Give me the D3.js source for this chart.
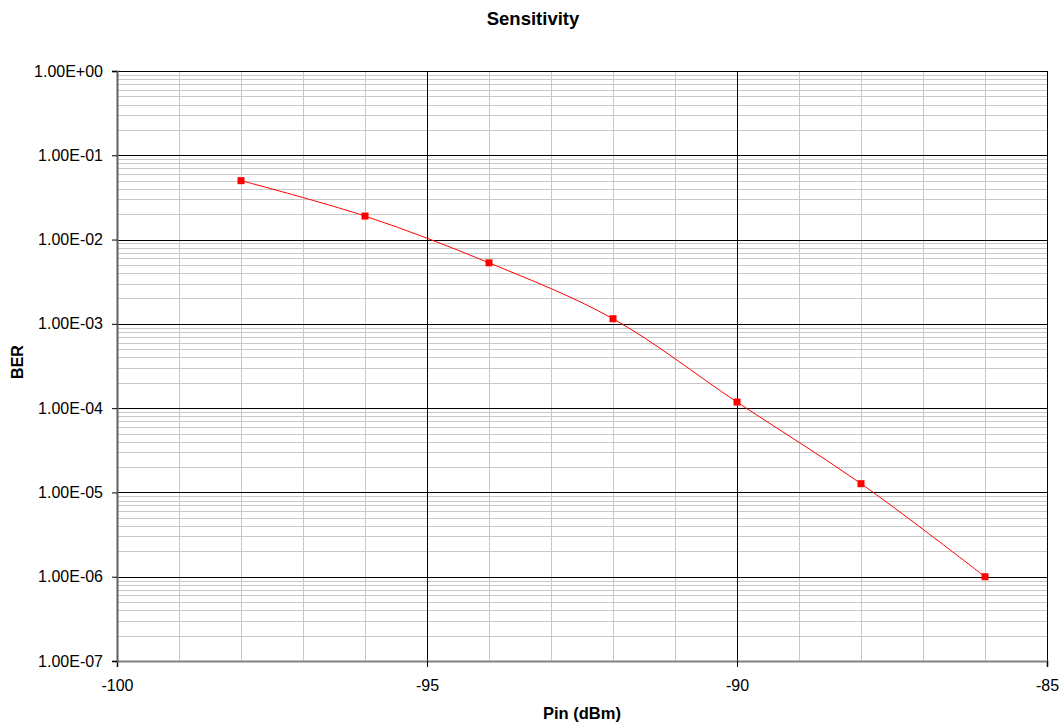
<!DOCTYPE html>
<html lang="en">
<head>
  <meta charset="UTF-8">
  <title>Sensitivity</title>
  <script src="https://d3js.org/d3.v7.min.js"></script>
  <style>
    body {
      margin: 0;
      padding: 0;
      background: #ffffff;
      font-family: Arial, 'Liberation Sans', sans-serif;
    }
    svg text { fill: #000; }
  </style>
</head>
<body>
  <svg id="chart" width="1064" height="723"></svg>

  <script>
    // data
    const pinDbm = [-98, -96, -94, -92, -90, -88, -86];
    const ber = [0.05, 0.019, 0.0053, 0.00115, 0.000118, 0.0000127, 0.000001];
    const xTicks = [-100, -95, -90, -85];
    const yTicks = [1e0, 1e-1, 1e-2, 1e-3, 1e-4, 1e-5, 1e-6, 1e-7];

    const svg = d3.select("#chart");
    const plotLeft = 117, plotRight = 1047, plotTop = 71, plotBottom = 661;

    const x = d3.scaleLinear().domain([-100, -85]).range([plotLeft, plotRight]);
    const y = d3.scaleLog().domain([1e-7, 1]).range([plotBottom, plotTop]);

    // minor grid
    const minorX = d3.range(-99, -85).filter(v => v % 5 !== 0);
    svg.append("g").selectAll("line")
      .data(minorX)
      .enter().append("line")
      .attr("x1", d => Math.round(x(d)) + 0.5).attr("x2", d => Math.round(x(d)) + 0.5)
      .attr("y1", plotTop).attr("y2", plotBottom)
      .style("stroke", "#c8c8c8").style("stroke-width", 1);

    const minorY = [];
    for (let e = -7; e < 0; e++) {
      for (let m = 2; m <= 9; m++) minorY.push(m * Math.pow(10, e));
    }
    svg.append("g").selectAll("line")
      .data(minorY)
      .enter().append("line")
      .attr("x1", plotLeft).attr("x2", plotRight)
      .attr("y1", d => Math.round(y(d)) + 0.5).attr("y2", d => Math.round(y(d)) + 0.5)
      .style("stroke", "#c8c8c8").style("stroke-width", 1);

    // major grid
    svg.append("g").selectAll("line")
      .data(xTicks.slice(1))
      .enter().append("line")
      .attr("x1", d => Math.round(x(d)) + 0.5).attr("x2", d => Math.round(x(d)) + 0.5)
      .attr("y1", plotTop).attr("y2", plotBottom)
      .style("stroke", "#000").style("stroke-width", 1);

    svg.append("g").selectAll("line")
      .data(yTicks.slice(0, -1))
      .enter().append("line")
      .attr("x1", plotLeft).attr("x2", plotRight)
      .attr("y1", d => Math.round(y(d)) + 0.5).attr("y2", d => Math.round(y(d)) + 0.5)
      .style("stroke", "#000").style("stroke-width", 1);

    // axes
    const xAxis = d3.axisBottom(x).tickValues(xTicks).tickSize(6).tickPadding(13)
      .tickFormat(d => String(d));
    const gx = svg.append("g").attr("transform", `translate(0,${plotBottom})`).call(xAxis);

    const yAxis = d3.axisLeft(y).tickValues(yTicks).tickSize(5).tickPadding(9)
      .tickFormat(d => d.toExponential(2).toUpperCase().replace(/E([+-])(\d)$/, "E$10$2"));
    const gy = svg.append("g").attr("transform", `translate(${plotLeft},0)`).call(yAxis);

    [gx, gy].forEach(g => {
      g.select(".domain").style("stroke", "#808080").style("stroke-width", 2);
      g.selectAll(".tick line").style("stroke", "#000");
      g.selectAll("text").style("font-size", "16px").style("font-family", "Arial, 'Liberation Sans', sans-serif");
    });
    gy.select(".domain").style("stroke", "#606060");

    // series
    const pts = pinDbm.map((p, i) => [p, ber[i]]);
    const line = d3.line()
      .x(d => x(d[0])).y(d => y(d[1]))
      .curve(d3.curveCatmullRom.alpha(0.5));

    svg.append("path")
      .datum(pts)
      .attr("d", line)
      .style("fill", "none")
      .style("stroke", "#ff0000")
      .style("stroke-width", 1);

    svg.selectAll("rect.marker")
      .data(pts)
      .enter().append("rect")
      .attr("class", "marker")
      .attr("x", d => x(d[0]) - 3.5)
      .attr("y", d => y(d[1]) - 3.5)
      .attr("width", 7).attr("height", 7)
      .style("fill", "#ff0000");

    // titles
    svg.append("text")
      .attr("x", 533).attr("y", 25)
      .attr("text-anchor", "middle")
      .style("font-size", "18.5px").style("font-weight", "bold")
      .text("Sensitivity");

    svg.append("text")
      .attr("x", (plotLeft + plotRight) / 2).attr("y", 719)
      .attr("text-anchor", "middle")
      .style("font-size", "16.5px").style("font-weight", "bold")
      .text("Pin (dBm)");

    svg.append("text")
      .attr("transform", "translate(23,362) rotate(-90)")
      .attr("text-anchor", "middle")
      .style("font-size", "16px").style("font-weight", "bold")
      .text("BER");
  </script>
</body>
</html>
